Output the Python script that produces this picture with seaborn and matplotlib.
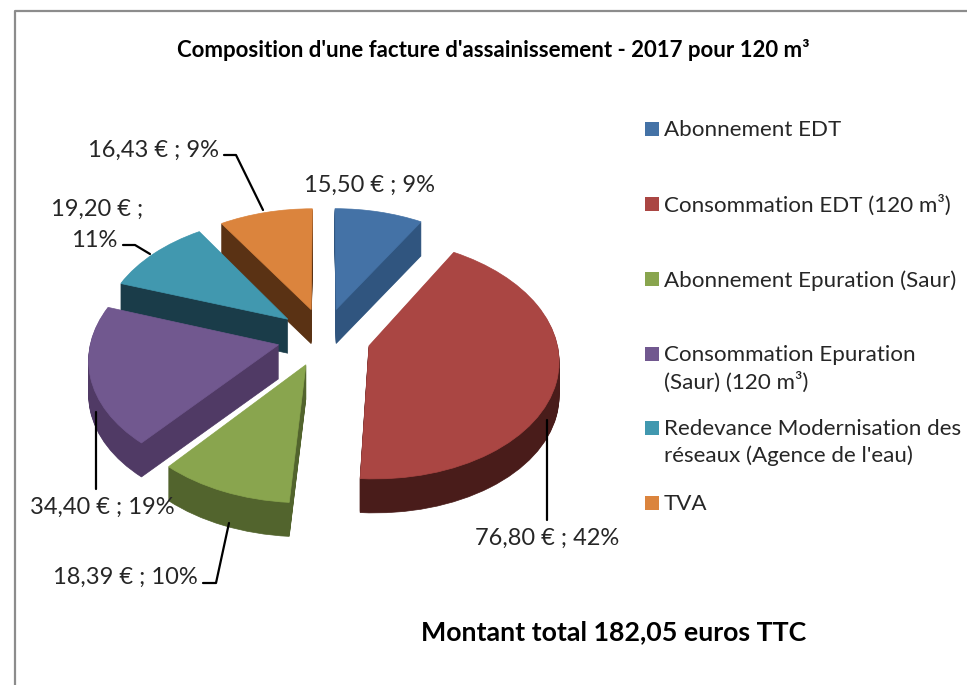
import numpy as np
import matplotlib
matplotlib.use("Agg")
import matplotlib.pyplot as plt
import matplotlib.transforms as mtransforms
import seaborn as sns

categories = ["Abonnement EDT", "Consommation EDT (120 m³)", "Abonnement Epuration (Saur)",
              "Consommation Epuration\n(Saur) (120 m³)",
              "Redevance Modernisation des\nréseaux (Agence de l'eau)", "TVA"]
values = [15.50, 76.80, 18.39, 34.40, 19.20, 16.43]
percents = [9, 42, 10, 19, 11, 9]

top_colors = ["#4472A6", "#AA4643", "#89A54E", "#71588F", "#4198AF", "#DB843D"]
wall_colors = ["#30557F", "#491C1A", "#52642D", "#503A65", "#1A3C49", "#5A3214"]
draw_order = [1, 4, 5, 3, 2, 0]  # blue, red, green, purple, teal, orange

CX, CY = 324, 337
RX, RY = 187, 117
PERSP = 0.106
DEPTH = 34
TEXT = "#262626"


class TiltedPlane(mtransforms.Transform):
    # lays the flat pie on a tilted plane, in picture pixels
    input_dims = 2
    output_dims = 2

    def __init__(self, drop=0):
        super().__init__()
        self.drop = drop

    def transform_non_affine(self, values):
        xy = np.asarray(values)
        s = 1 / (1 + PERSP * xy[:, 1])
        return np.column_stack((CX + RX * xy[:, 0] * s, CY - RY * xy[:, 1] * s + self.drop))


sns.set_theme(style="white")
plt.rcParams["font.family"] = ["Lato", "DejaVu Sans"]

fig = plt.figure(figsize=(9.67, 6.85), dpi=100, facecolor="white")
ax = fig.add_axes([0, 0, 1, 1])

top_palette = sns.color_palette(top_colors)
wall_palette = sns.color_palette(wall_colors)

# the thickness is the same pie drawn again lower down, then the top face
for drop in range(DEPTH, -1, -1):
    palette = top_palette if drop == 0 else wall_palette
    wedges, _ = ax.pie(values, explode=[0.25] * len(values), colors=palette, startangle=90,
                       counterclock=False, radius=1)
    for i, w in enumerate(wedges):
        w.set_transform(TiltedPlane(drop) + ax.transData)
        w.set_edgecolor(palette[i])
        w.set_linewidth(0.5)
        w.set_zorder(draw_order[i] + (DEPTH - drop) / (DEPTH + 1) * 0.9)

ax.set_aspect("auto")
ax.set_xlim(0, 967)
ax.set_ylim(685, 0)


def data_label(i):
    return f"{values[i]:.2f}".replace(".", ",") + " € ; " + f"{percents[i]}%"


# leader lines
for xs, ys in [([224, 236, 263], [155, 155, 210]),
               ([123, 135, 150], [245, 245, 254]),
               ([96, 96], [412, 489]),
               ([203, 216, 229], [583, 583, 523]),
               ([547, 547], [420, 520])]:
    ax.plot(xs, ys, color="black", lw=1.6, zorder=10, solid_joinstyle="round")

label_size = 17
ax.text(370, 185, data_label(0), ha="center", va="center", fontsize=label_size, color=TEXT, zorder=11)
ax.text(547, 538, data_label(1), ha="center", va="center", fontsize=label_size, color=TEXT, zorder=11)
ax.text(125, 577, data_label(2), ha="center", va="center", fontsize=label_size, color=TEXT, zorder=11)
ax.text(102, 507, data_label(3), ha="center", va="center", fontsize=label_size, color=TEXT, zorder=11)
ax.text(97, 209, f"{values[4]:.2f}".replace(".", ",") + " € ;", ha="center", va="center",
        fontsize=label_size, color=TEXT, zorder=11)
ax.text(94, 240, f"{percents[4]}%", ha="center", va="center", fontsize=label_size, color=TEXT, zorder=11)
ax.text(219, 150, data_label(5), ha="right", va="center", fontsize=label_size, color=TEXT, zorder=11)

# legend
legend_y = [129, 204, 279, 354, 428, 503]
for i, name in enumerate(categories):
    ax.scatter([652], [legend_y[i]], marker="s", s=105, color=top_palette[i], linewidths=0, zorder=11)
    ax.text(664, legend_y[i] - 9, name, ha="left", va="top", fontsize=16.1, color=TEXT,
            linespacing=1.38, zorder=11)

ax.text(493, 50, "Composition d'une facture d'assainissement - 2017 pour 120 m³", ha="center",
        va="center", fontsize=16, fontweight="bold", color="black", zorder=11)
ax.text(614, 632, "Montant total 182,05 euros TTC", ha="center", va="center", fontsize=19.3,
        fontweight="bold", color="black", zorder=11)

# what is visible of the chart border
ax.plot([14.5, 14.5, 967], [685, 11, 11], color="#8C8C8C", lw=1.6, zorder=12)

fig.savefig("out.png", dpi=100)
